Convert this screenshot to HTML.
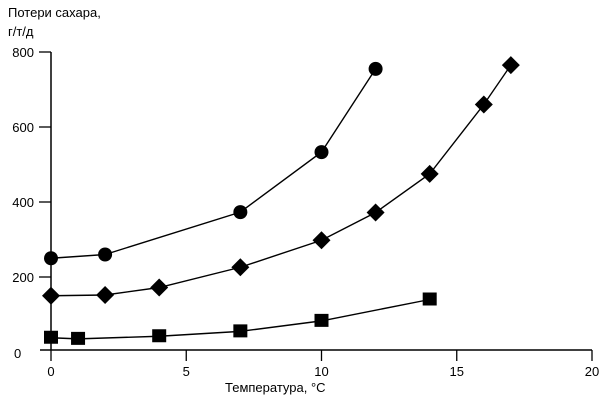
<!DOCTYPE html>
<html><head><meta charset="utf-8"><style>
body{margin:0;background:#fff}
svg{display:block;font-family:"Liberation Sans",sans-serif}
</style></head><body>
<svg id="c" width="600" height="400" xmlns="http://www.w3.org/2000/svg">
<text x="8" y="17" font-size="13">Потери сахара,</text>
<text x="8" y="36" font-size="13">г/т/д</text>
<text x="225" y="392" font-size="13">Температура, °C</text>
<g id="axes"></g><g id="marks"></g>
</svg>
<script>
const xTicks=[0,5,10,15,20];
const yTicks=[0,200,400,600,800];
const circleX=[0,2,7,10,12];
const circleY=[250,260,373,533,755];
const diamondX=[0,2,4,7,10,12,14,16,17];
const diamondY=[150,152,172,226,298,372,475,660,765];
const squareX=[0,1,4,7,10,14];
const squareY=[38,35,42,55,83,140];
const sx=v=>51+v*27.05;
const sy=v=>352-v*0.375;
const NS="http://www.w3.org/2000/svg";
const axes=document.getElementById('axes'),marks=document.getElementById('marks');
function mk(p,tag,a){const e=document.createElementNS(NS,tag);for(const k in a)e.setAttribute(k,a[k]);p.appendChild(e);return e;}
let e=mk(axes,'line',{x1:40,y1:350,x2:sx(20),y2:350,stroke:'#000','stroke-width':1.5});


e=mk(axes,'line',{x1:51,y1:sy(800),x2:51,y2:350,stroke:'#000','stroke-width':1.5});


xTicks.forEach(t=>{
  const l=mk(axes,'line',{x1:sx(t),y1:350,x2:sx(t),y2:361,stroke:'#000','stroke-width':1.3});
  
  
  const tx=mk(axes,'text',{x:sx(t),y:376,'font-size':13,'text-anchor':'middle'});tx.textContent=t;
  
  
});
yTicks.forEach(t=>{
  if(t>0){const l=mk(axes,'line',{x1:39,y1:sy(t),x2:51,y2:sy(t),stroke:'#000','stroke-width':1.3});
  
  }
  const tx=mk(axes,'text',{x:t===0?14:34,y:(t===0?358:sy(t)+5),'font-size':13,'text-anchor':'end'});tx.textContent=t;
  if(t===0)tx.setAttribute('text-anchor','start');
  
  
});
function series(xs,ys,name,shape){
  const pl=mk(marks,'polyline',{points:xs.map((x,i)=>sx(x)+','+sy(ys[i])).join(' '),fill:'none',stroke:'#000','stroke-width':1.4});
  
  
  xs.forEach((x,i)=>{
    const cx=sx(x),cy=sy(ys[i]);let m;
    if(shape==='c')m=mk(marks,'circle',{cx:cx,cy:cy,r:7,fill:'#000'});
    else if(shape==='d')m=mk(marks,'polygon',{points:`${cx},${cy-9} ${cx+9},${cy} ${cx},${cy+9} ${cx-9},${cy}`,fill:'#000'});
    else m=mk(marks,'rect',{x:cx-7,y:cy-7,width:14,height:13,fill:'#000'});
    
    
  });
}
series(circleX,circleY,'circle-series','c');
series(diamondX,diamondY,'diamond-series','d');
series(squareX,squareY,'square-series','s');
</script>
</body></html>
